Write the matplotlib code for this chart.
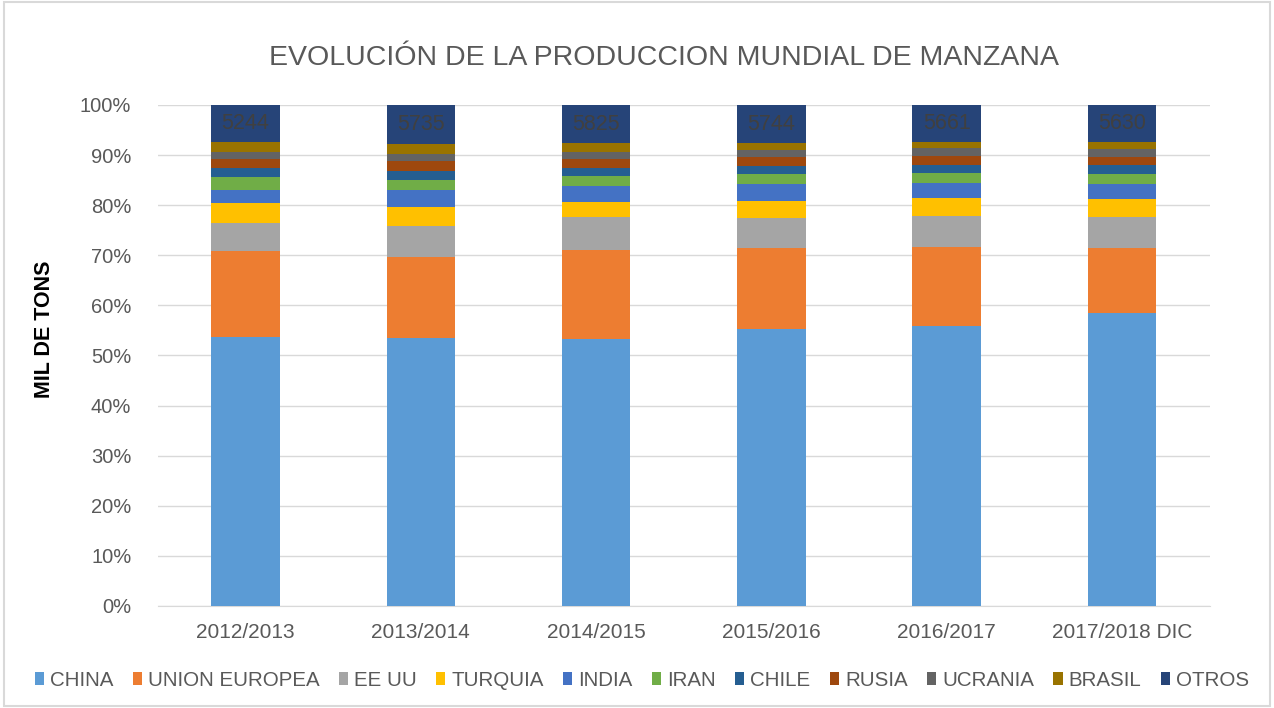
import numpy as np
import matplotlib.pyplot as plt
from matplotlib.patches import Rectangle

plt.rcParams['font.family'] = ['Liberation Sans', 'DejaVu Sans']

# periods and share of world apple production (% of total)
periodos = ["2012/2013", "2013/2014", "2014/2015", "2015/2016", "2016/2017", "2017/2018 DIC"]
paises = ["CHINA", "UNION EUROPEA", "EE UU", "TURQUIA", "INDIA", "IRAN",
          "CHILE", "RUSIA", "UCRANIA", "BRASIL", "OTROS"]

china   = [53.7, 53.5, 53.3, 55.3, 55.8, 58.5]
ue      = [17.2, 16.2, 17.8, 16.2, 15.9, 13.0]
eeuu    = [5.6, 6.1, 6.5, 5.9, 6.1, 6.1]
turquia = [3.9, 3.9, 3.0, 3.4, 3.6, 3.7]
india   = [2.6, 3.3, 3.2, 3.4, 3.0, 2.9]
iran    = [2.6, 2.1, 2.0, 2.0, 2.0, 2.0]
chile   = [1.8, 1.8, 1.6, 1.6, 1.7, 1.9]
rusia   = [1.8, 1.9, 1.8, 1.9, 1.7, 1.6]
ucrania = [1.5, 1.4, 1.35, 1.3, 1.6, 1.5]
brasil  = [1.85, 2.0, 1.8, 1.35, 1.2, 1.4]
otros   = [7.45, 7.8, 7.65, 7.65, 7.4, 7.4]

# labels shown on the OTROS segment (mil de tons)
etiquetas_otros = ["5244", "5735", "5825", "5744", "5661", "5630"]

colores = ["#5B9BD5", "#ED7D31", "#A5A5A5", "#FFC000", "#4472C4", "#70AD47",
           "#255E91", "#9E480E", "#636363", "#997300", "#264478"]

series = [china, ue, eeuu, turquia, india, iran, chile, rusia, ucrania, brasil, otros]

fig = plt.figure(figsize=(12.74, 7.08), dpi=100)
ax = fig.add_axes([0.1238, 0.1441, 0.8257, 0.7076])

x = np.arange(len(periodos))
base = np.zeros(len(periodos))
for vals, nombre, col in zip(series, paises, colores):
    v = np.array(vals, dtype=float)
    ax.bar(x, v, 0.39, bottom=base, color=col, label=nombre, zorder=3)
    base = base + v

tot = base
otros_arr = np.array(otros)
for i in range(len(periodos)):
    y_mid = tot[i] - otros_arr[i] / 2
    ax.text(x[i], y_mid, etiquetas_otros[i], ha='center', va='center',
            fontsize=15.5, color='#404040', zorder=4)

ax.set_xlim(-0.5, len(periodos) - 0.5)
ax.set_ylim(0, 100)
ax.set_yticks(np.arange(0, 101, 10))
ax.set_yticklabels([f"{t}%" for t in range(0, 101, 10)])
ax.set_xticks(x)
ax.set_xticklabels(periodos)
ax.tick_params(axis='y', length=0, labelsize=14.5, colors='#595959', pad=19)
ax.tick_params(axis='x', length=0, labelsize=15, colors='#595959', pad=12)
ax.yaxis.grid(True, color='#D9D9D9', lw=1, zorder=0)
for s in ['top', 'right', 'left']:
    ax.spines[s].set_visible(False)
ax.spines['bottom'].set_color('#D9D9D9')

fig.text(45 / 1274, 1 - 329 / 708, "MIL DE TONS", rotation=90, ha='center', va='center',
         fontsize=15.5, fontweight='bold', color='black')

fig.text(664 / 1274, 1 - 58 / 708, "EVOLUCIÓN DE LA PRODUCCION MUNDIAL DE MANZANA",
         ha='center', va='center', fontsize=20.5, color='#595959')

fig.legend(loc='center', bbox_to_anchor=(642 / 1274, 1 - 680 / 708), ncol=len(paises),
           frameon=False, fontsize=14.8, handlelength=0.45, handleheight=0.6,
           handletextpad=0.3, columnspacing=0.93, labelcolor='#595959')

fig.patches.append(Rectangle((0.003, 0.003), 0.994, 0.994, transform=fig.transFigure,
                             fill=False, edgecolor='#D9D9D9', lw=1.5))

fig.savefig("out.png", dpi=100)
